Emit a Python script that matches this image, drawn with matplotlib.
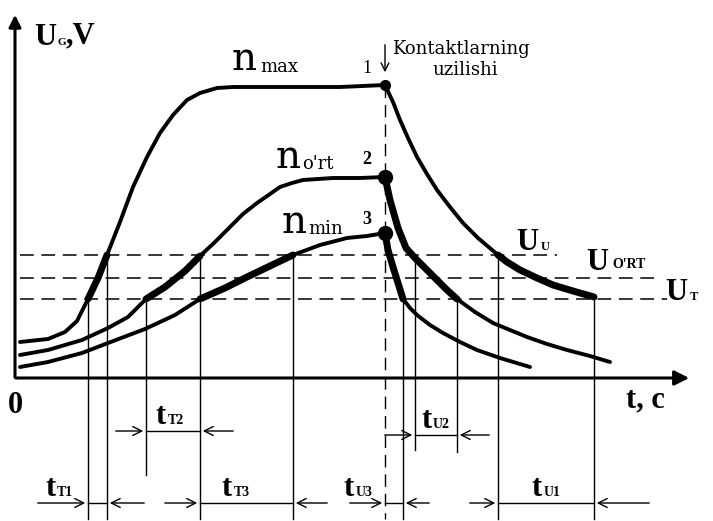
import matplotlib
matplotlib.use("Agg")
import matplotlib.pyplot as plt
import numpy as np

# curve points (pixel units, y grows downward)
nmax_rise_x = [20, 48, 65, 77, 88, 98, 107, 120, 133, 147, 160, 173, 187, 200, 217, 233, 260, 300, 340, 385]
nmax_rise_y = [342, 339, 332, 321, 299, 278, 255, 222, 187, 157, 133, 115, 100, 93, 88, 87, 87, 87, 87, 85]
nmax_fall_x = [385, 393, 400, 408, 417, 427, 437, 450, 463, 478, 498, 507, 520, 537, 553, 573, 594]
nmax_fall_y = [85, 102, 120, 138, 157, 174, 190, 207, 223, 238, 255, 262, 270, 278, 285, 291, 297]

nort_rise_x = [20, 48, 82, 108, 128, 146, 165, 185, 200, 215, 230, 243, 257, 270, 280, 292, 303, 318, 333, 360, 385]
nort_rise_y = [355, 350, 340, 328, 317, 299, 287, 271, 256, 242, 227, 214, 203, 194, 187, 183, 180, 179, 178, 178, 177]
nort_fall_x = [385, 390, 398, 406, 415, 425, 437, 447, 457, 475, 493, 510, 527, 547, 567, 590, 610]
nort_fall_y = [177, 200, 228, 248, 258, 268, 280, 290, 299, 312, 323, 330, 337, 344, 350, 356, 362]

nmin_rise_x = [20, 48, 82, 108, 145, 175, 200, 225, 247, 270, 293, 320, 347, 367, 385]
nmin_rise_y = [367, 362, 353, 343, 329, 315, 299, 288, 277, 266, 255, 245, 238, 236, 233]
nmin_fall_x = [385, 388, 393, 398, 403, 410, 417, 430, 443, 460, 477, 500, 530]
nmin_fall_y = [233, 250, 267, 283, 299, 308, 315, 325, 333, 342, 350, 358, 367]

# threshold levels U_U, U_O'RT, U_T
level_y = [255, 278, 299]
level_end = [557, 657, 667]

t_break = 385
# crossing moments (curves 1=max, 2=o'rt, 3=min)
rise_tT = [88, 146, 200]
rise_tU = [107, 200, 293]
fall_tT = [594, 457, 403]
fall_tU = [498, 385, 385]

# vertical guide lines: x, top, bottom
guides = [(88, 299, 519), (107, 255, 519), (146, 299, 475), (200, 255, 519),
          (293, 255, 519), (403, 299, 519), (415, 255, 450), (457, 299, 452),
          (498, 255, 519), (594, 299, 519)]

# dimension arrows: x0, x1, y, left tail, right tail, label x, subscript
dims = [(146, 200, 431, 113, 236, 156, "T2"),
        (88, 107, 503, 35, 147, 45, "T1"),
        (200, 293, 503, 162, 330, 222, "T3"),
        (385, 403, 503, 347, 432, 344, "U3"),
        (415, 457, 435, 382, 492, 421, "U2"),
        (498, 594, 503, 467, 652, 532, "U1")]

SERIF = "Liberation Serif"
SERIF2 = "DejaVu Serif"

fig = plt.figure(figsize=(7.13, 5.21), dpi=100)
ax = fig.add_axes([0, 0, 1, 1])
ax.set_xlim(0, 713)
ax.set_ylim(521, 0)
ax.axis("off")


def curve(xs, ys, x0, x1):
    xs = np.array(xs)
    ys = np.array(ys)
    ax.plot(xs, ys, color="k", lw=2.8, solid_capstyle="round", solid_joinstyle="round")
    m = (xs >= x0) & (xs <= x1)
    ax.plot(xs[m], ys[m], color="k", lw=5.0, solid_capstyle="round", solid_joinstyle="round")


curve(nmax_rise_x, nmax_rise_y, rise_tT[0], rise_tU[0])
curve(nmax_fall_x, nmax_fall_y, fall_tU[0], fall_tT[0])
curve(nort_rise_x, nort_rise_y, rise_tT[1], rise_tU[1])
curve(nort_fall_x, nort_fall_y, fall_tU[1], fall_tT[1])
curve(nmin_rise_x, nmin_rise_y, rise_tT[2], rise_tU[2])
curve(nmin_fall_x, nmin_fall_y, fall_tU[2], fall_tT[2])

for yy, xe in zip(level_y, level_end):
    ax.plot([20, xe], [yy, yy], color="k", lw=1.1, dashes=(9, 5))

for x, y0, y1 in guides:
    ax.plot([x, x], [y0, y1], color="k", lw=1.0)
ax.plot([t_break, t_break], [85, 519], color="k", lw=1.0, dashes=(9, 5))

# break points
ax.plot([t_break], [nmax_rise_y[-1]], "ko", ms=7)
ax.plot([t_break, t_break], [nort_rise_y[-1], nmin_rise_y[-1]], "ko", ms=10)

# axes
ax.annotate("", xy=(15, 12), xytext=(15, 380),
            arrowprops=dict(arrowstyle="-|>", lw=2.2, color="k", mutation_scale=18))
ax.annotate("", xy=(692, 378), xytext=(13, 378),
            arrowprops=dict(arrowstyle="-|>", lw=2.2, color="k", mutation_scale=22))

for x0, x1, y, la, ra, lx, sub in dims:
    ax.plot([x0, x1], [y, y], color="k", lw=1.0)
    ax.annotate("", xy=(x0, y), xytext=(la, y),
                arrowprops=dict(arrowstyle="->", lw=1.0, color="k", mutation_scale=16))
    ax.annotate("", xy=(x1, y), xytext=(ra, y),
                arrowprops=dict(arrowstyle="->", lw=1.0, color="k", mutation_scale=16))
    ax.text(lx, y - 7, "t", fontsize=22, fontweight="bold", family=SERIF, va="baseline")
    ax.text(lx + 12, y - 7, sub, fontsize=10, fontweight="bold", family=SERIF, va="baseline")

# labels
ax.text(34, 45, "U", fontsize=22, fontweight="bold", family=SERIF, va="baseline")
ax.text(58, 45, "G", fontsize=8, fontweight="bold", family=SERIF, va="baseline")
ax.text(66, 43, ",V", fontsize=22, fontweight="bold", family=SERIF, va="baseline")
ax.text(8, 413, "0", fontsize=22, fontweight="bold", family=SERIF, va="baseline")
ax.text(626, 407, "t, c", fontsize=22, fontweight="bold", family=SERIF, va="baseline")

ax.text(232, 70, "n", fontsize=28, family=SERIF2, va="baseline")
ax.text(260, 72, "max", fontsize=13, family=SERIF2, va="baseline")
ax.text(276, 168, "n", fontsize=28, family=SERIF2, va="baseline")
ax.text(302, 169, "o'rt", fontsize=13, family=SERIF2, va="baseline")
ax.text(282, 233, "n", fontsize=28, family=SERIF2, va="baseline")
ax.text(308, 234, "min", fontsize=13, family=SERIF2, va="baseline")

ax.text(362, 73, "1", fontsize=13, family=SERIF, va="baseline")
ax.text(362, 164, "2", fontsize=13, fontweight="bold", family=SERIF, va="baseline")
ax.text(362, 224, "3", fontsize=13, fontweight="bold", family=SERIF, va="baseline")

ax.annotate("", xy=(385, 75), xytext=(385, 42),
            arrowprops=dict(arrowstyle="->", lw=1.0, color="k", mutation_scale=14))
ax.text(392, 54, "Kontaktlarning", fontsize=13, family=SERIF2, va="baseline")
ax.text(465, 75, "uzilishi", fontsize=13, family=SERIF2, va="baseline", ha="center")

ax.text(516, 250, "U", fontsize=22, fontweight="bold", family=SERIF, va="baseline")
ax.text(541, 250, "U", fontsize=9, fontweight="bold", family=SERIF, va="baseline")
ax.text(586, 270, "U", fontsize=22, fontweight="bold", family=SERIF, va="baseline")
ax.text(612, 268, "O'RT", fontsize=10, fontweight="bold", family=SERIF, va="baseline")
ax.text(665, 300, "U", fontsize=22, fontweight="bold", family=SERIF, va="baseline")
ax.text(690, 300, "T", fontsize=9, fontweight="bold", family=SERIF, va="baseline")

fig.savefig("out.png", dpi=100)
